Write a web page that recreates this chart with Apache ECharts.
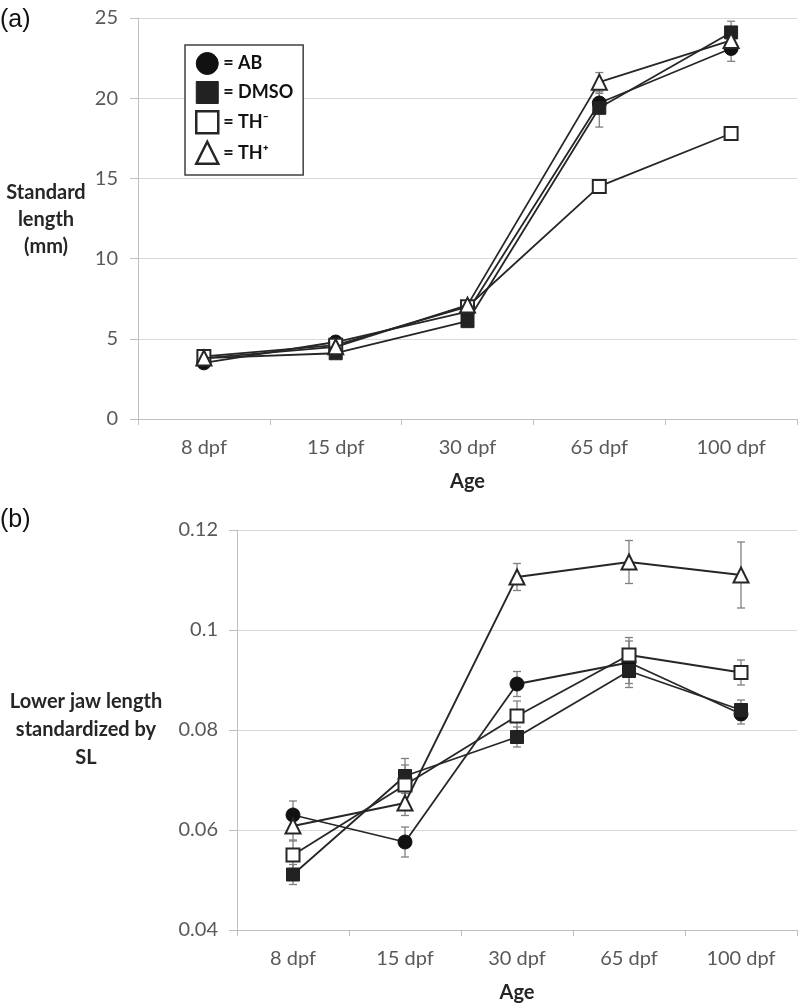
<!DOCTYPE html>
<html><head><meta charset="utf-8">
<script src="https://cdn.jsdelivr.net/npm/echarts@6/dist/echarts.min.js"></script>
<style>html,body{margin:0;padding:0;background:#fff}#c{width:800px;height:1004px}</style>
</head><body><div id="c"></div>
<script>
// ---- data ----
const categories = ['8 dpf', '15 dpf', '30 dpf', '65 dpf', '100 dpf'];
const groupNames = ['AB', 'DMSO', 'TH⁻', 'TH⁺'];

// (a) Standard length (mm)
const slAB   = [3.5, 4.8, 6.7, 19.7, 23.1];
const slDMSO = [3.8, 4.1, 6.1, 19.4, 24.1];
const slTHm  = [3.9, 4.6, 7.0, 14.5, 17.8];
const slTHp  = [3.8, 4.5, 7.1, 21.0, 23.6];
const slErrAB   = [0.1, 0.15, 0.2, 0.6, 0.8];
const slErrDMSO = [0.1, 0.1, 0.2, 1.2, 0.7];
const slErrTHm  = [0.1, 0.1, 0.2, 0.2, 0.2];
const slErrTHp  = [0.1, 0.15, 0.2, 0.6, 0.4];
const slTicks = {min: 0, max: 25, interval: 5};

// (b) Lower jaw length standardized by SL
const ljAB   = [0.0630, 0.0576, 0.0892, 0.0935, 0.0832];
const ljDMSO = [0.0511, 0.0708, 0.0786, 0.0918, 0.0840];
const ljTHm  = [0.0550, 0.0690, 0.0828, 0.0950, 0.0915];
const ljTHp  = [0.0608, 0.0654, 0.1106, 0.1136, 0.1110];
const ljErrAB   = [0.0028, 0.0030, 0.0025, 0.0050, 0.0020];
const ljErrDMSO = [0.0020, 0.0035, 0.0020, 0.0025, 0.0020];
const ljErrTHm  = [0.0030, 0.0040, 0.0030, 0.0028, 0.0025];
const ljErrTHp  = [0.0030, 0.0025, 0.0027, 0.0043, 0.0066];
const ljTicks = {min: 0.04, max: 0.12, interval: 0.02};

// ---- styles ----
const INK = '#262626';
const FONT = 'Lato, "Open Sans", sans-serif';
const markerStyles = [
  {symbol: 'circle', size: 14, item: {color: '#111', borderColor: '#111', borderWidth: 1}},
  {symbol: 'rect', size: 13, item: {color: '#222', borderColor: '#222', borderWidth: 1}},
  {symbol: 'rect', size: 13, item: {color: '#fff', borderColor: INK, borderWidth: 2}},
  {symbol: 'triangle', size: 15, item: {color: '#fff', borderColor: INK, borderWidth: 2}}
];

function errRender(params, api) {
  const x = api.value(0), y = api.value(1), e = api.value(2);
  const t = api.coord([x, y + e]), b = api.coord([x, y - e]);
  const cap = 4;
  const st = {stroke: '#808080', lineWidth: 1.3};
  return {type: 'group', children: [
    {type: 'line', shape: {x1: t[0], y1: t[1], x2: b[0], y2: b[1]}, style: st},
    {type: 'line', shape: {x1: t[0] - cap, y1: t[1], x2: t[0] + cap, y2: t[1]}, style: st},
    {type: 'line', shape: {x1: b[0] - cap, y1: b[1], x2: b[0] + cap, y2: b[1]}, style: st}
  ]};
}

function makeSeries(gi, valsList, errList) {
  const out = [];
  valsList.forEach((vals, k) => {
    out.push({
      type: 'custom', xAxisIndex: gi, yAxisIndex: gi, silent: true, z: 1,
      renderItem: errRender,
      data: categories.map((c, i) => [i, vals[i], errList[k][i]])
    });
  });
  valsList.forEach((vals, k) => {
    const m = markerStyles[k];
    out.push({
      type: 'line', name: groupNames[k], xAxisIndex: gi, yAxisIndex: gi, z: 2 + k,
      data: vals, symbol: m.symbol, symbolSize: m.size, showSymbol: true,
      lineStyle: {color: INK, width: 1.8},
      itemStyle: m.item, emphasis: {disabled: true}
    });
  });
  return out;
}

function xAxis(gi) {
  return {
    type: 'category', gridIndex: gi, data: categories, boundaryGap: true,
    axisLine: {lineStyle: {color: '#bfbfbf', width: 1}},
    axisTick: {show: true, length: 6, lineStyle: {color: '#bfbfbf'}},
    axisLabel: {margin: 19, fontSize: 20, color: '#595959', fontFamily: FONT},
    name: 'Age', nameLocation: 'middle', nameGap: 53,
    nameTextStyle: {fontSize: 20, fontWeight: 'bold', color: INK, fontFamily: FONT}
  };
}
function yAxis(gi, tk, margin) {
  return {
    type: 'value', gridIndex: gi, min: tk.min, max: tk.max, interval: tk.interval,
    axisLine: {show: true, lineStyle: {color: '#bfbfbf', width: 1}},
    axisTick: {show: true, length: 8, lineStyle: {color: '#bfbfbf'}},
    axisLabel: {margin: margin, fontSize: 20, color: '#595959', fontFamily: FONT},
    splitLine: {lineStyle: {color: '#d9d9d9', width: 1.2}}
  };
}

const chart = echarts.init(document.getElementById('c'), null, {renderer: 'canvas'});
chart.setOption({
  animation: false,
  backgroundColor: '#fff',
  grid: [
    {left: 138, top: 18, width: 659, height: 401},
    {left: 237, top: 530, width: 560, height: 400}
  ],
  xAxis: [xAxis(0), xAxis(1)],
  yAxis: [yAxis(0, slTicks, 20), yAxis(1, ljTicks, 19)],
  legend: {
    orient: 'vertical', left: 185, top: 45,
    padding: [7, 10, 10, 10], itemGap: 6, itemWidth: 22, itemHeight: 22,
    borderColor: '#404040', borderWidth: 1.5, backgroundColor: '#fff',
    selectedMode: false,
    formatter: n => '= ' + n,
    textStyle: {fontSize: 18, fontWeight: 'bold', color: '#111', fontFamily: FONT},
    data: groupNames.map((n, k) => ({
      name: n, icon: markerStyles[k].symbol,
      itemStyle: Object.assign({}, markerStyles[k].item, k >= 2 ? {borderWidth: 2.5} : {})
    }))
  },
  graphic: [
    {type: 'text', left: 0, top: 8, style: {text: '(a)', fontSize: 25, fill: '#111', fontFamily: '"Liberation Sans", Arial, sans-serif'}},
    {type: 'text', left: 0, top: 508, style: {text: '(b)', fontSize: 25, fill: '#111', fontFamily: '"Liberation Sans", Arial, sans-serif'}},
    {type: 'text', x: 46, y: 220, style: {text: 'Standard\nlength\n(mm)', fontSize: 20, lineHeight: 27, fontWeight: 'bold', fill: INK, align: 'center', verticalAlign: 'middle', fontFamily: FONT}},
    {type: 'text', x: 86, y: 730, style: {text: 'Lower jaw length\nstandardized by\nSL', fontSize: 20, lineHeight: 28, fontWeight: 'bold', fill: INK, align: 'center', verticalAlign: 'middle', fontFamily: FONT}}
  ],
  series: [].concat(
    makeSeries(0, [slAB, slDMSO, slTHm, slTHp], [slErrAB, slErrDMSO, slErrTHm, slErrTHp]),
    makeSeries(1, [ljAB, ljDMSO, ljTHm, ljTHp], [ljErrAB, ljErrDMSO, ljErrTHm, ljErrTHp])
  )
});
</script></body></html>
